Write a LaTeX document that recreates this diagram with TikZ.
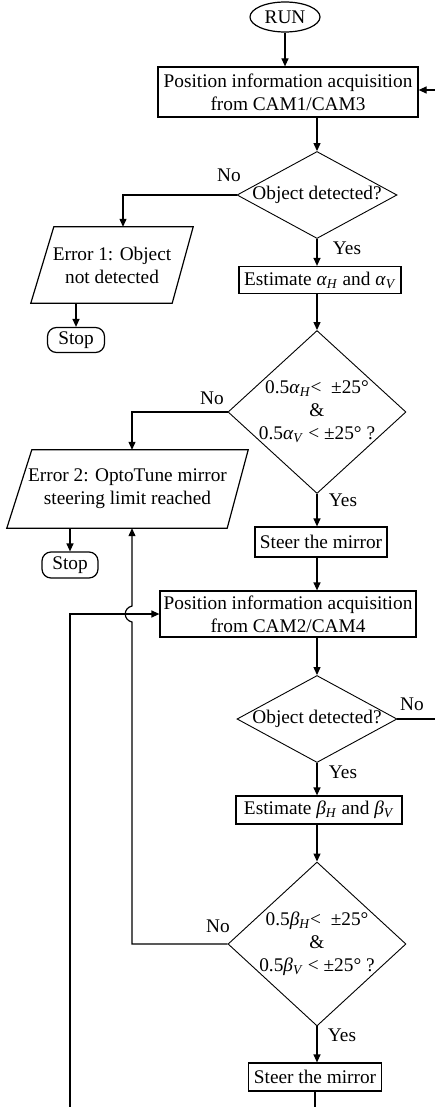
\documentclass[tikz,border=0pt]{standalone}
\usepackage{fontspec}
\setmainfont{Liberation Serif}
\usetikzlibrary{shapes.geometric,arrows.meta}
\newcommand\gsub[2]{\textit{#1}\textsubscript{\textit{#2}}}
\begin{document}
\begin{tikzpicture}[x=1pt,y=-1pt,
  every node/.style={font=\fontsize{19.3}{23}\selectfont, inner sep=0pt},
  box/.style={draw, line width=1.2pt, rectangle, align=center},
  dec/.style={draw, diamond, line width=0.9pt},
  io/.style={rectangle, align=center},
  ioline/.style={line width=1.2pt},
  term/.style={draw, rounded corners=9pt, line width=1.2pt},
  startnode/.style={draw, ellipse, line width=1.2pt},
  conn/.style={line width=1.2pt},
  arr/.style={conn, -{Triangle[length=8pt,width=7pt]}},
  dectext/.style={align=center}]
\useasboundingbox (0,0) rectangle (435,1107);

% nodes
\node[startnode, minimum width=70pt, minimum height=30pt] (run) at (285,17) {RUN};
\node[box, minimum width=260pt, minimum height=50pt] (acq1) at (288,92) {Position information acquisition\\from CAM1/CAM3};
\node[dec, minimum width=160pt, minimum height=87pt, label={center:Object detected?}] (det1) at (317,195) {};
\node[io, minimum width=162pt, minimum height=76pt] (err1) at (112,265) {Error 1: Object\\not detected};
\draw[ioline] ([xshift=23pt]err1.north west) -- (err1.north east) -- ([xshift=-21pt]err1.south east) -- (err1.south west) -- cycle;
\node[term, minimum width=57pt, minimum height=25pt] (stop1) at (76,340) {Stop};
\node[box, minimum width=162pt, minimum height=27pt] (esta) at (320,280) {Estimate \gsub{α}{H} and \gsub{α}{V}};
\node[dec, minimum width=178pt, minimum height=163pt,
      label={[dectext]center:{0.5\gsub{α}{H}<\ \ ±25°\\\&\\0.5\gsub{α}{V} < ±25° ?}}] (lim1) at (317,412) {};
\node[io, minimum width=241pt, minimum height=78pt] (err2) at (127.5,489) {Error 2: OptoTune mirror\\steering limit reached};
\draw[ioline] ([xshift=25pt]err2.north west) -- (err2.north east) -- ([xshift=-21pt]err2.south east) -- (err2.south west) -- cycle;
\node[term, minimum width=56pt, minimum height=26pt] (stop2) at (70,565) {Stop};
\node[box, minimum width=132pt, minimum height=30pt] (steer1) at (321,542) {Steer the mirror};
\node[box, minimum width=256pt, minimum height=46pt] (acq2) at (288,614) {Position information acquisition\\from CAM2/CAM4};
\node[dec, minimum width=160pt, minimum height=87pt, label={center:Object detected?}] (det2) at (317,719) {};
\node[box, minimum width=166pt, minimum height=28pt] (estb) at (319,810) {Estimate \gsub{β}{H} and \gsub{β}{V}};
\node[dec, minimum width=178pt, minimum height=164pt,
      label={[dectext]center:{0.5\gsub{β}{H}<\ \ ±25°\\\&\\0.5\gsub{β}{V} < ±25° ?}}] (lim2) at (317,944) {};
\node[box, minimum width=133pt, minimum height=28pt] (steer2) at (315,1077) {Steer the mirror};

% labels
\node (no1) at (229,175) {No};
\node (yes1) at (347,248) {Yes};
\node (no2) at (212,398) {No};
\node (yes2) at (343,500) {Yes};
\node (no3) at (412,704) {No};
\node (yes3) at (343,772) {Yes};
\node (no4) at (218,926) {No};
\node (yes4) at (342,1035) {Yes};

% free ends
\coordinate (inR) at (435,90);
\coordinate (outR) at (435,719);
\coordinate (bot) at (0,1107);
\coordinate (loopbot) at (70,1107);
\coordinate (hopbot) at (132,622);
\coordinate (hoptop) at (132,606);

% connectors
\draw[arr] (run.south) -- (run.south |- acq1.north);
\draw[arr] (inR) -- (inR -| acq1.east);
\draw[arr] (det1.north |- acq1.south) -- (det1.north);
\draw[arr] (det1.west) -| ([xshift=11pt]err1.north);
\draw[arr] (stop1.north |- err1.south) -- (stop1.north);
\draw[arr] (det1.south) -- (det1.south |- esta.north);
\draw[arr] (lim1.north |- esta.south) -- (lim1.north);
\draw[arr] (lim1.west) -| ([xshift=4.5pt]err2.north);
\draw[arr] (stop2.north |- err2.south) -- (stop2.north);
\draw[arr] (lim1.south) -- (lim1.south |- steer1.north);
\draw[arr] (det2.north |- steer1.south) -- (det2.north |- acq2.north);
\draw[arr] (det2.north |- acq2.south) -- (det2.north);
\draw[conn] (det2.east) -- (outR);
\draw[arr] (det2.south) -- (det2.south |- estb.north);
\draw[arr] (lim2.north |- estb.south) -- (lim2.north);
\draw[arr] (lim2.south) -- (lim2.south |- steer2.north);
\draw[conn] (steer2.south) -- (steer2.south |- bot);
\draw[arr] (loopbot) |- (acq2.west);
\draw[arr] (lim2.west) -| (hopbot) .. controls (123,620) and (123,608) .. (hoptop) -- (hoptop |- err2.south);
\end{tikzpicture}
\end{document}
